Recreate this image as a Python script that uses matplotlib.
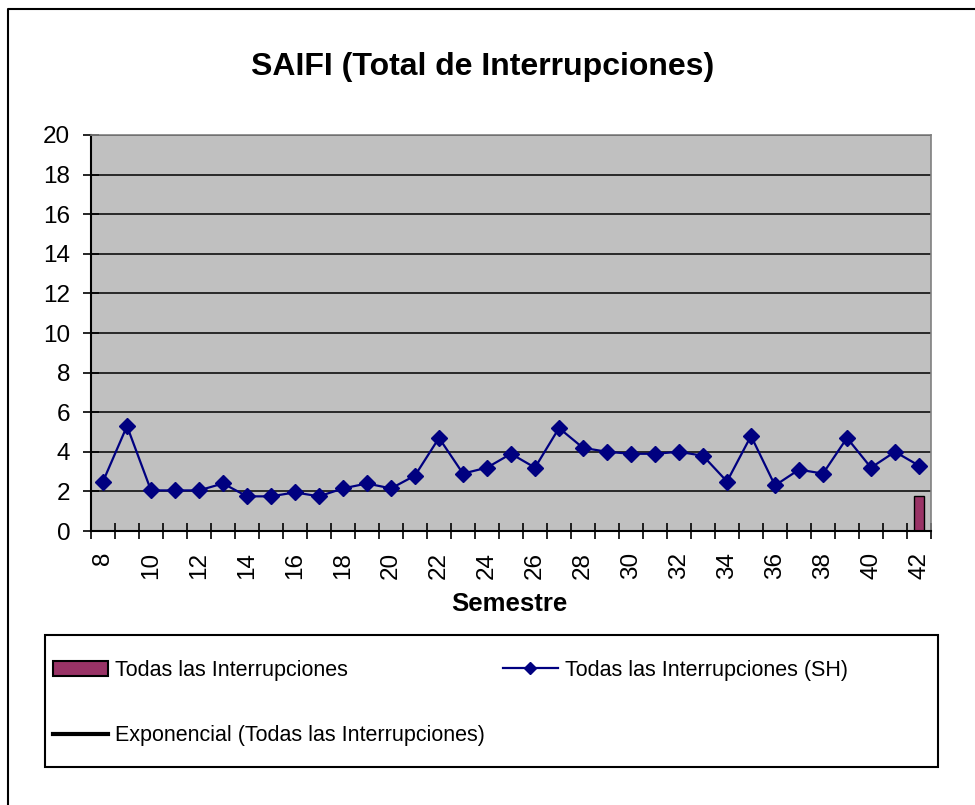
import matplotlib
matplotlib.use("Agg")
import matplotlib.pyplot as plt
from matplotlib import font_manager
from matplotlib.lines import Line2D
from matplotlib.patches import Patch, Rectangle
import numpy as np

plt.rcParams["font.family"] = ["Liberation Sans", "DejaVu Sans"]

semestres = list(range(8, 43))
saifi_sh = [2.5, 5.3, 2.05, 2.05, 2.05, 2.4, 1.75, 1.75, 1.95, 1.75,
            2.15, 2.4, 2.15, 2.8, 4.7, 2.9, 3.2, 3.9, 3.2, 5.2,
            4.2, 4.0, 3.9, 3.9, 4.0, 3.8, 2.5, 4.8, 2.3, 3.1,
            2.9, 4.7, 3.2, 4.0, 3.3]
bar_semestre = [42]
bar_total = [1.75]

W, H = 975, 805
fig = plt.figure(figsize=(W / 100, H / 100), dpi=100)
ax = fig.add_axes([91 / W, 1 - 531 / H, 840 / W, 396 / H])
ax.set_facecolor("#C0C0C0")

x = np.arange(len(semestres))
bar_x = [semestres.index(s) for s in bar_semestre]
ax.bar(bar_x, bar_total, width=0.45, color="#993366", edgecolor="black",
       linewidth=1, zorder=2)
ax.plot(x, saifi_sh, color="#000080", linewidth=1.6, marker="D",
        markersize=8.5, zorder=3)

ax.set_xlim(-0.5, len(semestres) - 0.5)
ax.set_ylim(0, 20)
ax.set_yticks(np.arange(0, 21, 2))
ax.yaxis.grid(True, color="black", linewidth=1.1)
ax.set_axisbelow(True)

# ticks at category boundaries, labels on every second category
ax.set_xticks(np.arange(-0.5, len(semestres)))
ax.set_xticklabels([])
even = [i for i, s in enumerate(semestres) if s % 2 == 0]
ax.set_xticks(even, minor=True)
ax.set_xticklabels([str(semestres[i]) for i in even], minor=True,
                   rotation=90, fontsize=17.5)
ax.tick_params(axis="x", which="major", direction="inout", length=12,
               width=1.2, color="black")
ax.tick_params(axis="x", which="minor", length=0, pad=15)
ax.tick_params(axis="y", direction="inout", length=12, width=1.2,
               labelsize=17.5, pad=9)

for s in ["left", "bottom"]:
    ax.spines[s].set_color("black")
    ax.spines[s].set_linewidth(1.5)
for s in ["top", "right"]:
    ax.spines[s].set_color("#808080")
    ax.spines[s].set_linewidth(1.2)

fig.text(483 / W, 1 - 67 / H, "SAIFI (Total de Interrupciones)",
         ha="center", va="center", fontsize=23, fontweight="bold")
fig.text(509 / W, 1 - 604 / H, "Semestre", ha="center", va="center",
         fontsize=18.5, fontweight="bold")

# legend: narrow font if available
names = {f.name for f in font_manager.fontManager.ttflist}
if "Liberation Sans Narrow" in names:
    leg_font = {"family": "Liberation Sans Narrow", "size": 18.5}
else:
    leg_font = {"family": "Liberation Sans", "size": 15.5}

fig.add_artist(Rectangle((45 / W, 1 - 767 / H), 893 / W, 132 / H,
                         transform=fig.transFigure, facecolor="white",
                         edgecolor="black", linewidth=1.5, zorder=1))

handles = [
    Patch(facecolor="#993366", edgecolor="black", linewidth=1.5),
    Line2D([], [], color="black", linewidth=3),
    Line2D([], [], color="#000080", linewidth=1.6, marker="D", markersize=6.5),
]
labels = ["Todas las Interrupciones",
          "Exponencial (Todas las Interrupciones)",
          "Todas las Interrupciones (SH)"]
fs_px = leg_font["size"] * 100 / 72
leg = fig.legend(handles, labels, loc="upper left", ncol=2,
                 bbox_to_anchor=(53 / W, 1 - 660 / H),
                 borderaxespad=0, borderpad=0, prop=leg_font,
                 handlelength=55 / fs_px, handleheight=0.7,
                 handletextpad=7 / fs_px,
                 labelspacing=(66 - fs_px) / fs_px,
                 columnspacing=18 / fs_px, frameon=False)
leg.set_zorder(2)

# outer chart border (only top and left edges visible)
fig.add_artist(Line2D([8 / W, 8 / W, 1], [0, 1 - 9 / H, 1 - 9 / H],
                      transform=fig.transFigure, color="black", linewidth=1.5))

fig.savefig("out.png", dpi=100)
